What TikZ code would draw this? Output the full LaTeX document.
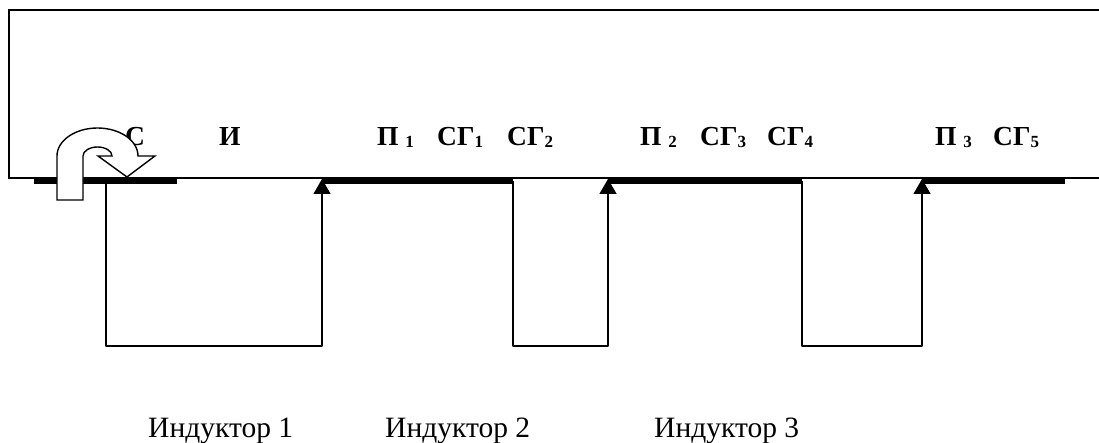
\documentclass[tikz,border=0pt]{standalone}
\usepackage{fontspec}
\setmainfont{Liberation Serif}
\usetikzlibrary{arrows.meta}
\newcommand{\subd}[1]{\raisebox{-2pt}{\fontsize{17}{17}\selectfont #1}}
\begin{document}
\begin{tikzpicture}[x=1pt,y=-1pt,
  frame/.style={line width=1.6pt},
  bar/.style={line width=5pt},
  feed/.style={line width=1.4pt,line join=round,-{Triangle[width=17pt,length=15pt]}},
  lbl/.style={font=\fontsize{27.5}{27.5}\selectfont\bfseries, anchor=base west, inner sep=0pt},
  ind/.style={font=\fontsize{29.5}{29.5}\selectfont, anchor=base west, inner sep=0pt},
  uturn/.style={line width=1.4pt, fill=white, line join=miter}]
\useasboundingbox (0,0) rectangle (1099,443);
% frame
\coordinate (tl) at (9,10);
\coordinate (tr) at (1099,10);
\coordinate (bl) at (9,178);
\coordinate (br) at (1099,178);
\draw[frame] (tr) -- (tl) -- (bl) -- (br);
% bars
\coordinate (b1s) at (34,181.5);  \coordinate (b1e) at (177,181.5);
\coordinate (b2s) at (322,181.5); \coordinate (b2e) at (513,181.5);
\coordinate (b3s) at (608,181.5); \coordinate (b3e) at (802,181.5);
\coordinate (b4s) at (922,181.5); \coordinate (b4e) at (1065,181.5);
\draw[bar] (b1s) -- (b1e);
\draw[bar] (b2s) -- (b2e);
\draw[bar] (b3s) -- (b3e);
\draw[bar] (b4s) -- (b4e);
% inductors
\coordinate (i1a) at (106,181.5); \coordinate (i1b) at (106,346);
\coordinate (i1c) at (322,346);   \coordinate (i1d) at (322,179);
\coordinate (i2a) at (513,181.5); \coordinate (i2b) at (513,346);
\coordinate (i2c) at (608,346);   \coordinate (i2d) at (608,179);
\coordinate (i3a) at (802,181.5); \coordinate (i3b) at (802,346);
\coordinate (i3c) at (922,346);   \coordinate (i3d) at (922,179);
\draw[feed] (i1a) -- (i1b) -- (i1c) -- (i1d);
\draw[feed] (i2a) -- (i2b) -- (i2c) -- (i2d);
\draw[feed] (i3a) -- (i3b) -- (i3c) -- (i3d);
% labels
\node[lbl] (c) at (125,146) {С};
\node[lbl] (i) at (219,146) {И};
\node[lbl] (p1) at (377,146) {П \subd{1}};
\node[lbl] (sg1) at (437,146) {СГ\subd{1}};
\node[lbl] (sg2) at (507,146) {СГ\subd{2}};
\node[lbl] (p2) at (640,146) {П \subd{2}};
\node[lbl] (sg3) at (700,146) {СГ\subd{3}};
\node[lbl] (sg4) at (767,146) {СГ\subd{4}};
\node[lbl] (p3) at (935,146) {П \subd{3}};
\node[lbl] (sg5) at (993,146) {СГ\subd{5}};
\node[ind] (ind1) at (148,437) {Индуктор 1};
\node[ind] (ind2) at (385,437) {Индуктор 2};
\node[ind] (ind3) at (654,437) {Индуктор 3};
% u-turn arrow
\draw[uturn] (57,200) -- (57,156)
  arc[start angle=180, end angle=360, x radius=40.5, y radius=28]
  -- (155,156) -- (127,177) -- (98,156) -- (112,156)
  arc[start angle=0, end angle=-180, x radius=14.5, y radius=9]
  -- (83,200) -- cycle;
\end{tikzpicture}
\end{document}
